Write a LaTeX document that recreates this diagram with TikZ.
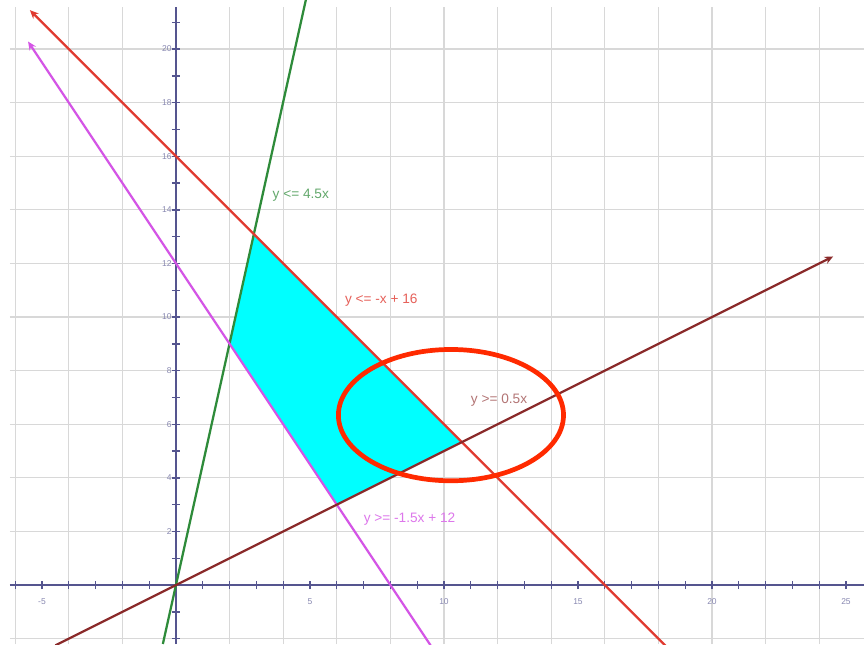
\documentclass[tikz,border=0pt]{standalone}
\usepackage{fontspec}
\setmainfont{Liberation Sans}
\usepackage{tikz}
\usetikzlibrary{arrows.meta}

\definecolor{axisblue}{HTML}{55558F}
\definecolor{gridgray}{HTML}{D8D8D8}
\definecolor{lgreen}{HTML}{2E8B3A}
\definecolor{lred}{HTML}{E03A30}
\definecolor{lviolet}{HTML}{D455E6}
\definecolor{lmaroon}{HTML}{8A2A2A}
\definecolor{circred}{HTML}{FF2A00}
\definecolor{regioncyan}{HTML}{00FFFF}

\begin{document}
\begin{tikzpicture}[
  x=1cm, y=1cm,
  gridline/.style={draw=gridgray, line width=1.2pt},
  axisline/.style={draw=axisblue, line width=1.4pt},
  ticklbl/.style={font=\fontsize{9}{10}\selectfont, text=axisblue!70},
  ineq/.style={draw, line width=2.4pt},
  arr/.style={-{Stealth[length=9pt, width=8pt]}},
  eqlbl/.style={anchor=west, inner sep=0pt, font=\fontsize{14.5}{16}\selectfont},
]
  \clip (-6.567,-2.2) rectangle (25.672,21.83);
  \fill[white] (-6.567,-2.2) rectangle (25.672,21.83);

  % grid and axes
  \draw[gridline, step=2] (-6.2,-2.2) grid (25.672,21.57);
  \draw[axisline] (-6.2,0) -- (25.672,0);
  \draw[axisline] (0,-2.2) -- (0,21.57);
  \foreach \x in {-6,...,25}
    \draw[axisline] (\x,-0.15) -- (\x,0.15);
  \foreach \y in {-2,...,21}
    \draw[axisline] (-0.15,\y) -- (0.15,\y);
  \foreach \x in {-5,5,10,15,20,25}
    \node[ticklbl] (xl\x) at (\x,-0.6) {\x};
  \foreach \y in {2,4,...,20}
    \node[ticklbl, left, inner sep=1pt] (yl\y) at (-0.12,\y) {\y};

  % feasible region
  \coordinate (va) at (2,9);
  \coordinate (vb) at (2.909,13.091);
  \coordinate (vc) at (10.667,5.333);
  \coordinate (vd) at (6,3);
  \fill[regioncyan] (va) -- (vb) -- (vc) -- (vd) -- cycle;

  % boundary lines
  \coordinate (green lo) at (-0.49,-2.2);
  \coordinate (green hi) at (4.86,21.9);
  \coordinate (red lo) at (18.3,-2.3);
  \coordinate (red hi) at (-5.45,21.45);
  \coordinate (violet lo) at (9.5,-2.25);
  \coordinate (violet hi) at (-5.52,20.28);
  \coordinate (maroon lo) at (-4.5,-2.25);
  \coordinate (maroon hi) at (24.52,12.26);

  \draw[ineq, lgreen] (green lo) -- (green hi);
  \draw[ineq, lred, arr] (red lo) -- (red hi);
  \draw[ineq, lviolet, arr] (violet lo) -- (violet hi);
  \draw[ineq, lmaroon, arr] (maroon lo) -- (maroon hi);

  % labels
  \node[eqlbl, text=lgreen!75] (lblgreen) at (3.6,14.55) {y <= 4.5x};
  \node[eqlbl, text=lred!80] (lblred) at (6.3,10.63) {y <= -x + 16};
  \node[eqlbl, text=lmaroon!65] (lblmaroon) at (11.0,6.9) {y >= 0.5x};
  \node[eqlbl, text=lviolet!80] (lblviolet) at (7.0,2.46) {y >= -1.5x + 12};

  % highlight
  \draw[circred, line width=5pt] (10.26,6.34) ellipse (4.2 and 2.45);
\end{tikzpicture}
\end{document}
